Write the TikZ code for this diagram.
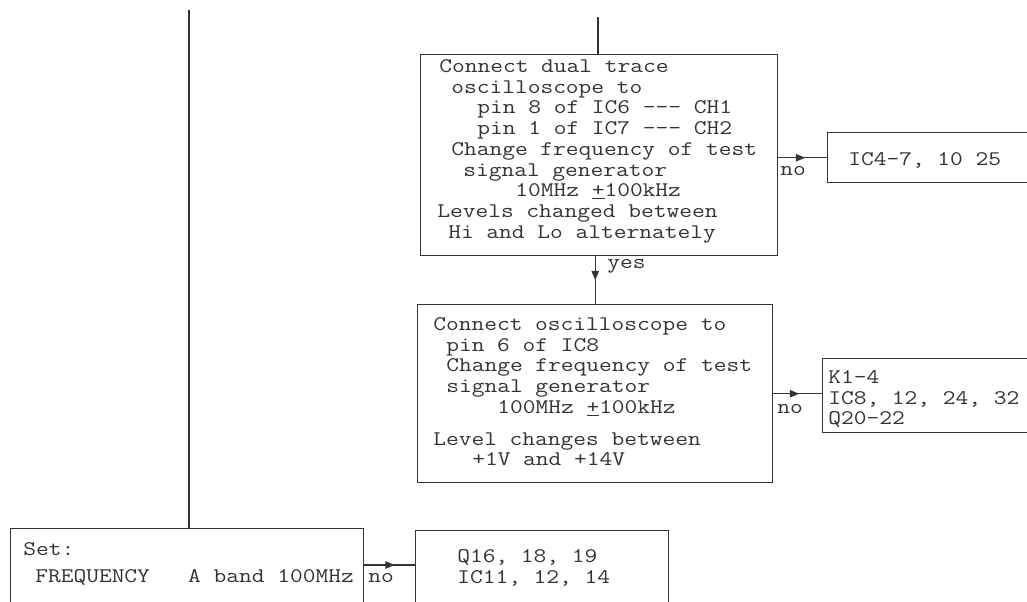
\documentclass[tikz,border=0pt]{standalone}
\usepackage{fontspec}
\newfontfamily\tw[FakeStretch=1.19,Ligatures=NoCommon]{Latin Modern Mono}
\usetikzlibrary{arrows.meta,decorations.markings}
\newdimen\px \px=0.75pt
\newcommand\fl{\rule{0pt}{13pt}}
\begin{document}
\begin{tikzpicture}[x=0.75pt,y=-0.75pt,
  box/.style={draw=black!80,line width=1.1pt,anchor=north west,inner sep=0pt},
  txt/.style={anchor=north west,inner sep=0pt,align=left,text=black!80,font=\fontsize{15.6}{15.56}\selectfont\tw},
  lbl/.style={anchor=base west,inner sep=0pt,text=black!80,font=\fontsize{15.6}{15.56}\selectfont\tw},
  conn/.style={draw=black!80,line width=1.1pt},
  midarrow/.style={postaction={decorate},decoration={markings,mark=at position #1 with {\arrow{Triangle[length=7pt,width=5.5pt]}}}}]
\clip (0,0) rectangle (1027,601);
\fill[white] (0,0) rectangle (1027,601);
% boxes
\node[box,minimum width={357*0.75pt},minimum height={201*0.75pt}] (b1) at (420,54) {};
\node[box,minimum width={355*0.75pt},minimum height={178*0.75pt}] (b2) at (417,304) {};
\node[box,minimum width={250*0.75pt},minimum height={50*0.75pt}] (ic4) at (827,132) {};
\node[box,minimum width={250*0.75pt},minimum height={74*0.75pt}] (k) at (822,358) {};
\node[box,minimum width={353*0.75pt},minimum height={100*0.75pt}] (set) at (10,528) {};
\node[box,minimum width={253*0.75pt},minimum height={100*0.75pt}] (q) at (415,530) {};
% texts
\node[txt] (t1) at (437,54.67) {\fl\hspace*{2\px}Connect dual trace\\
\hspace*{14\px}oscilloscope to\\
\hspace*{40\px}pin 8 of IC6 -{}-{}- CH1\\
\hspace*{40\px}pin 1 of IC7 -{}-{}- CH2\\
\hspace*{14\px}Change frequency of test\\
\hspace*{26\px}signal generator\\
\hspace*{78\px}10MHz \underline{+}100kHz\\
Levels changed between\\
\hspace*{11\px}Hi and Lo alternately};
\node[txt] (t2) at (433,312.67) {\fl Connect oscilloscope to\\
\hspace*{13\px}pin 6 of IC8\\
\hspace*{13\px}Change frequency of test\\
\hspace*{13\px}signal generator\\
\hspace*{64\px}100MHz \underline{+}100kHz\\[11\px]
Level changes between\\
\hspace*{39\px}+1V and +14V};
\node[lbl] (tic4) at (848,165) {IC4-7, 10 25};
\node[txt] (tk) at (828,365.67) {\fl K1-4\\IC8, 12, 24, 32\\Q20-22};
\node[txt] (tset) at (23,537.67) {\fl Set:\\[6\px]\hspace*{12\px}FREQUENCY\ \ \ A band 100MHz};
\node[txt] (tq) at (457,544.67) {\fl Q16, 18, 19\\IC11, 12, 14};
% labels
\node[lbl] (no1) at (780,175) {no};
\node[lbl] (no2) at (777,413) {no};
\node[lbl] (no3) at (368,582) {no};
\node[lbl] (yes) at (607,268) {yes};
% connectors
\coordinate (ltop) at (189,10);
\draw[conn] (ltop) -- (ltop |- set.north);
\coordinate (b1top) at (598,17);
\draw[conn] (b1top) -- (b1top |- b1.north);
\draw[conn,midarrow=0.5] (b1.south -| b2.north) -- (b2.north);
\draw[conn,midarrow=0.55] (b1.east |- ic4.west) -- (ic4.west);
\draw[conn,midarrow=0.53] (b2.east) -- (b2.east -| k.west);
\coordinate (ya) at (0,565);
\draw[conn,midarrow=0.6] (set.east |- ya) -- (q.west |- ya);
\end{tikzpicture}
\end{document}
